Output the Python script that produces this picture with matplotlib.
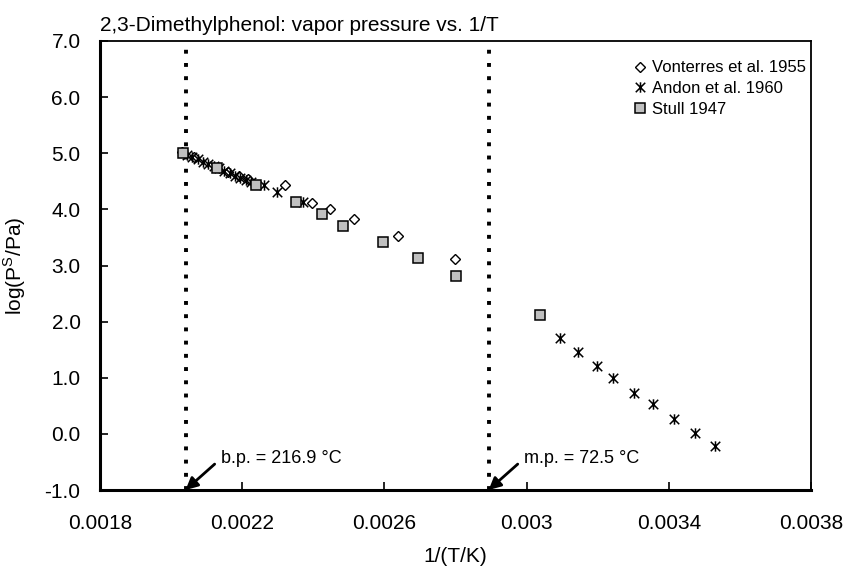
import matplotlib
matplotlib.use("Agg")
import matplotlib.pyplot as plt
from matplotlib.path import Path

plt.rcParams['font.family'] = ['Liberation Sans', 'DejaVu Sans']

# Data
vont_x = [0.00203, 0.002065, 0.00216, 0.00219, 0.002216, 0.00232, 0.002396, 0.002447, 0.002515, 0.002639, 0.002799]
vont_y = [5.02, 4.93, 4.67, 4.60, 4.55, 4.43, 4.11, 4.00, 3.82, 3.52, 3.12]

andon_x = [0.002045, 0.00206, 0.002075, 0.00209, 0.002105, 0.00212, 0.002135, 0.00215, 0.002165,
           0.00218, 0.002195, 0.00221, 0.002225, 0.00226, 0.002299, 0.002372,
           0.003094, 0.003145, 0.003197, 0.003244, 0.003302, 0.003356, 0.003415, 0.003474, 0.00353]
andon_y = [4.97, 4.93, 4.89, 4.85, 4.81, 4.77, 4.73, 4.69, 4.65,
           4.60, 4.56, 4.52, 4.48, 4.43, 4.31, 4.13,
           1.71, 1.46, 1.21, 0.99, 0.72, 0.53, 0.27, 0.01, -0.22]

stull_x = [0.002034, 0.00213, 0.002239, 0.00235, 0.002424, 0.002484, 0.002595, 0.002695, 0.0028005, 0.003038]
stull_y = [5.00, 4.73, 4.43, 4.125, 3.91, 3.71, 3.416, 3.13, 2.82, 2.11]

bp_C = 216.9
mp_C = 72.5
x_bp = 1.0 / (bp_C + 273.15)
x_mp = 1.0 / (mp_C + 273.15)

xticks = [0.0018, 0.0022, 0.0026, 0.003, 0.0034, 0.0038]
xticklabels = ['0.0018', '0.0022', '0.0026', '0.003', '0.0034', '0.0038']
yticks = [-1, 0, 1, 2, 3, 4, 5, 6, 7]

fig = plt.figure(figsize=(8.48, 5.67), dpi=100)
ax = fig.add_axes([100/848, 1-490/567, 711/848, 449/567])

star = Path([(-1, -1), (1, 1), (-1, 1), (1, -1), (0, -1.1), (0, 1.1)],
            [Path.MOVETO, Path.LINETO, Path.MOVETO, Path.LINETO, Path.MOVETO, Path.LINETO])

dot = (0, (1, 2.4))
ax.plot([x_bp, x_bp], [-1, 7], color='black', linestyle=dot, linewidth=2.8, zorder=1)
ax.plot([x_mp, x_mp], [-1, 7], color='black', linestyle=dot, linewidth=2.8, zorder=1)

ax.plot(vont_x, vont_y, linestyle='none', marker='D', markersize=5.5, markerfacecolor='white',
        markeredgecolor='black', markeredgewidth=1.0, label='Vonterres et al. 1955', zorder=3)
ax.plot(andon_x, andon_y, linestyle='none', marker=star, markersize=7.5, markerfacecolor='none',
        markeredgecolor='black', markeredgewidth=1.1, label='Andon et al. 1960', zorder=4)
ax.plot(stull_x, stull_y, linestyle='none', marker='s', markersize=6.5, markerfacecolor='#c0c0c0',
        markeredgecolor='black', markeredgewidth=1.1, label='Stull 1947', zorder=5)

ax.set_xlim(0.0018, 0.0038)
ax.set_ylim(-1, 7)
ax.set_xticks(xticks)
ax.set_xticklabels(xticklabels)
ax.set_yticks(yticks)
ax.set_yticklabels([f'{v:.1f}' for v in yticks])
ax.tick_params(direction='in', length=6, width=1.2, labelsize=15)
ax.tick_params(axis='x', pad=17)
ax.tick_params(axis='y', pad=14)
for s in ax.spines.values():
    s.set_linewidth(1.3)
ax.spines['bottom'].set_linewidth(2.2)
ax.spines['left'].set_linewidth(2.2)

ax.set_xlabel('1/(T/K)', fontsize=15, labelpad=10)
ax.set_ylabel(r'log(P$^\mathregular{S}$/Pa)', fontsize=15, labelpad=12)
ax.set_title('2,3-Dimethylphenol: vapor pressure vs. 1/T', loc='left', fontsize=15, pad=7)

for xv, txt in [(x_bp, 'b.p. = 216.9 °C'), (x_mp, 'm.p. = 72.5 °C')]:
    ax.annotate(txt, xy=(xv, -1), xytext=(xv + 0.0000985, -0.43),
                fontsize=13, ha='left', va='center',
                arrowprops=dict(arrowstyle='-|>', color='black', lw=2, mutation_scale=18,
                                shrinkA=3, shrinkB=0, relpos=(0, 0.45)))

ax.legend(loc='upper right', bbox_to_anchor=(1.0, 0.968), frameon=False, fontsize=12,
          handlelength=0.7, handletextpad=0.4, labelspacing=0.34, borderaxespad=0.1,
          borderpad=0.2)

fig.savefig('out.png', dpi=100)
